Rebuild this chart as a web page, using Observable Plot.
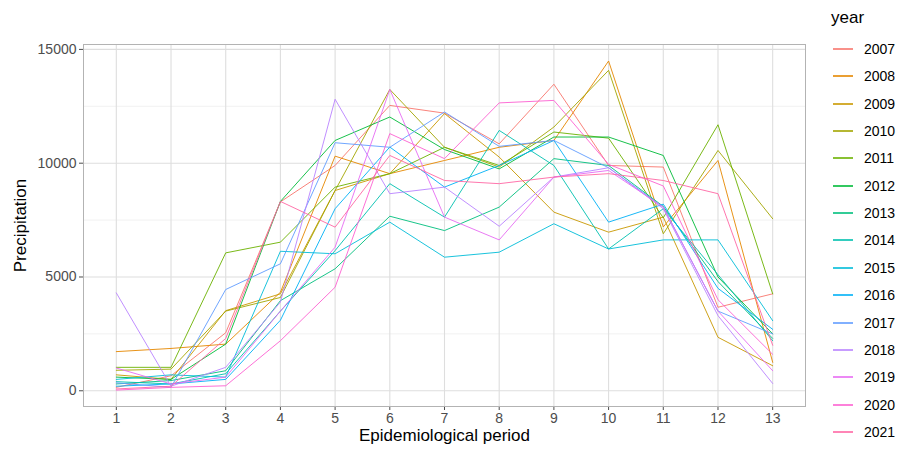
<!DOCTYPE html>
<html><head><meta charset="utf-8">
<script src="https://cdn.jsdelivr.net/npm/d3@7"></script>
<script src="https://cdn.jsdelivr.net/npm/@observablehq/plot@0.6"></script>
<style>
body{margin:0;background:#fff;font-family:"Liberation Sans",Arial,sans-serif;}
#wrap{position:relative;width:900px;height:452px;overflow:hidden;}
#chart{position:absolute;left:0;top:0;}
#legend{position:absolute;left:0;top:0;width:900px;height:452px;pointer-events:none;}
.lt{position:absolute;font-size:17px;color:#000;}
.li{position:absolute;font-size:14px;color:#000;}
.lk{position:absolute;height:2px;width:20px;opacity:0.8;}
</style></head><body>
<div id="wrap"><div id="chart"></div><div id="legend"></div></div>
<script>
const periods = [1,2,3,4,5,6,7,8,9,10,11,12,13];
const years = ["2007","2008","2009","2010","2011","2012","2013","2014","2015","2016","2017","2018","2019","2020","2021"];
const colors = ["#F8766D","#E58700","#C99800","#A3A500","#6BB100","#00BA38","#00BF7D","#00C0AF","#00BCD8","#00B0F6","#619CFF","#B983FF","#E76BF3","#FD61D1","#FF67A4"];
const yTicks = [0,5000,10000,15000];
const yMinor = [2500,7500,12500];

const y2007 = [150, 660, 2550, 8300, 9900, 12540, 12200, 10850, 13470, 9900, 9830, 3670, 4260];
const y2008 = [1720, 1860, 2050, 4330, 10310, 9540, 10120, 10700, 11000, 14490, 7200, 10120, 1250];
const y2009 = [700, 500, 3520, 4260, 8800, 9540, 12180, 10270, 7850, 6970, 7630, 2350, 1100];
const y2010 = [900, 950, 3500, 4100, 8800, 13240, 10700, 9830, 11590, 14080, 6900, 10560, 7560];
const y2011 = [1030, 1030, 6060, 6530, 8950, 9540, 10700, 9900, 11370, 11100, 7600, 11690, 4260];
const y2012 = [600, 500, 2050, 8320, 11000, 12030, 10600, 9750, 11150, 11150, 10340, 5000, 2500];
const y2013 = [300, 450, 880, 3960, 5360, 7670, 7040, 8070, 10200, 9900, 8100, 4800, 2300];
const y2014 = [400, 300, 750, 3500, 6160, 9100, 7630, 11440, 9900, 6230, 8000, 5100, 2200];
const y2015 = [500, 700, 600, 6130, 6020, 7410, 5870, 6090, 7340, 6230, 6630, 6630, 3080];
const y2016 = [200, 300, 500, 3100, 8000, 10710, 8950, 9900, 11000, 7410, 8200, 4500, 2700];
const y2017 = [350, 150, 4450, 5580, 10900, 10700, 12250, 10740, 11000, 9800, 8070, 3500, 2500];
const y2018 = [4300, 200, 1030, 3900, 12810, 8660, 8950, 7230, 9390, 9800, 8000, 3300, 320];
const y2019 = [1000, 300, 600, 3500, 6310, 13240, 7630, 6630, 9390, 9680, 8070, 3500, 880];
const y2020 = [30, 150, 220, 2200, 4550, 11300, 10200, 12650, 12760, 9950, 9000, 4000, 1600];
const y2021 = [80, 200, 2300, 8320, 7190, 10340, 9240, 9100, 9390, 9540, 9240, 8660, 2000];

const seriesList = [y2007,y2008,y2009,y2010,y2011,y2012,y2013,y2014,y2015,y2016,y2017,y2018,y2019,y2020,y2021];
const data = years.flatMap((yr, i) => periods.map((p, j) => ({year: yr, period: p, value: seriesList[i][j]})));

const chart = Plot.plot({
  width: 820, height: 452,
  marginLeft: 83, marginRight: 15, marginTop: 44, marginBottom: 46,
  style: {fontFamily: "Liberation Sans, Arial, sans-serif", fontSize: "14px", color: "#4d4d4d", background: "#fff"},
  x: {domain: [0.4, 13.6], ticks: periods, tickFormat: d => String(d), tickSize: 4, tickPadding: 3, label: null},
  y: {domain: [-691, 15216], ticks: yTicks, tickFormat: d => String(d), tickSize: 4, tickPadding: 3, label: null},
  color: {domain: years, range: colors},
  marks: [
    Plot.ruleY(yMinor, {stroke: "#ebebeb", strokeWidth: 0.7}),
    Plot.ruleY(yTicks, {stroke: "#dedede", strokeWidth: 1.1}),
    Plot.ruleX(periods, {stroke: "#dedede", strokeWidth: 1.1}),
    Plot.frame({stroke: "#b3b3b3", strokeWidth: 1}),
    Plot.line(data, {x: "period", y: "value", z: "year", stroke: "year", strokeWidth: 1, strokeOpacity: 0.9}),
    Plot.text(["Epidemiological period"], {frameAnchor: "bottom", dy: 34, fontSize: 17, fill: "#000"}),
    Plot.text(["Precipitation"], {frameAnchor: "left", dx: -63, rotate: -90, textAnchor: "middle", fontSize: 17, fill: "#000"})
  ]
});
document.getElementById("chart").appendChild(chart);

const leg = document.getElementById("legend");
const t = document.createElement("div");
t.className = "lt"; t.textContent = "year"; t.style.left = "831px"; t.style.top = "8px";
leg.appendChild(t);
years.forEach((yr, i) => {
  const cy = Math.round(49 + i * 27.35);
  const k = document.createElement("div");
  k.className = "lk"; k.style.left = "833px"; k.style.top = (cy - 1) + "px"; k.style.background = colors[i];
  leg.appendChild(k);
  const s = document.createElement("div");
  s.className = "li"; s.textContent = yr; s.style.left = "864px"; s.style.top = (cy - 8) + "px";
  leg.appendChild(s);
});
</script>
</body></html>
